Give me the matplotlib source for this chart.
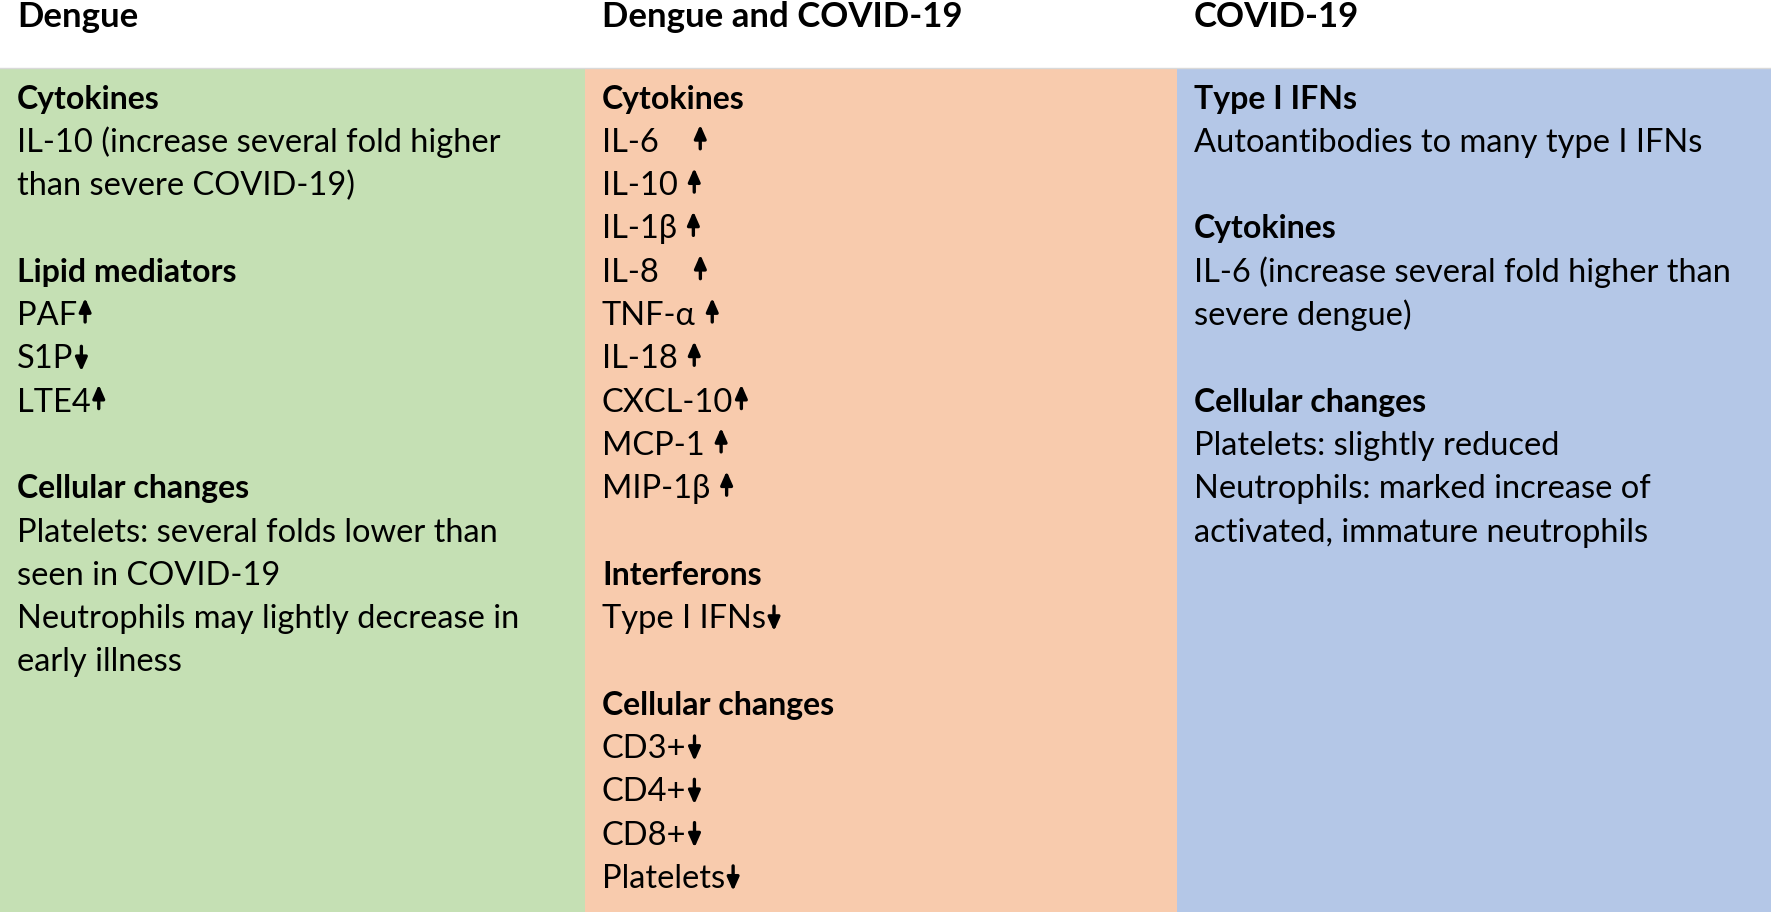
import matplotlib.pyplot as plt
from matplotlib.patches import Rectangle

# column titles and background colours
titles = ["Dengue", "Dengue and COVID-19", "COVID-19"]
colours = ["#C5E0B4", "#F8CBAD", "#B4C7E7"]

# each column: list of (heading, lines); a trailing arrow marks up/down
dengue = [
    ("Cytokines", ["IL-10 (increase several fold higher",
                   "than severe COVID-19)"]),
    ("Lipid mediators", ["PAF↑", "S1P↓", "LTE4↑"]),
    ("Cellular changes", ["Platelets: several folds lower than",
                          "seen in COVID-19",
                          "Neutrophils may lightly decrease in",
                          "early illness"]),
]
both = [
    ("Cytokines", ["IL-6    ↑", "IL-10 ↑", "IL-1β ↑", "IL-8    ↑",
                   "TNF-α ↑", "IL-18 ↑", "CXCL-10↑", "MCP-1 ↑",
                   "MIP-1β ↑"]),
    ("Interferons", ["Type I IFNs↓"]),
    ("Cellular changes", ["CD3+↓", "CD4+↓", "CD8+↓", "Platelets↓"]),
]
covid = [
    ("Type I IFNs", ["Autoantibodies to many type I IFNs"]),
    ("Cytokines", ["IL-6 (increase several fold higher than",
                   "severe dengue)"]),
    ("Cellular changes", ["Platelets: slightly reduced",
                          "Neutrophils: marked increase of",
                          "activated, immature neutrophils"]),
]
columns = [dengue, both, covid]

W, H = 1771, 914
fig = plt.figure(figsize=(W / 100, H / 100), dpi=100)
ax = fig.add_axes([0, 0, 1, 1])
ax.set_xlim(0, W)
ax.set_ylim(H, 0)
ax.axis("off")
renderer = fig.canvas.get_renderer()

fam = ["Lato", "DejaVu Sans"]
body_fs, head_fs, title_fs = 23.5, 23, 25
edges = [0, 585, 1177, W]
top, bottom = 68, 912
y0, step = 108.5, 43.3


def text_width(s, size):
    t = ax.text(0, 0, s, family=fam, fontsize=size)
    w = t.get_window_extent(renderer).width
    t.remove()
    return w


space_w = text_width("x x", body_fs) - text_width("xx", body_fs)


def draw_arrow(xa, yb, up):
    if up:
        tail, tip = yb - 3, yb - 27
    else:
        tail, tip = yb - 22, yb + 3
    ax.annotate("", xy=(xa, tip), xytext=(xa, tail),
                arrowprops=dict(arrowstyle="-|>,head_length=0.5,head_width=0.22",
                                lw=2.4, color="black", shrinkA=0, shrinkB=0,
                                mutation_scale=16))


for i, (title, col, colour) in enumerate(zip(titles, columns, colours)):
    x0 = edges[i]
    ax.add_patch(Rectangle((x0, top), edges[i + 1] - x0, bottom - top,
                           facecolor=colour, edgecolor="none"))
    ax.text(x0 + 17, 27, title, family=fam, fontweight="bold", fontsize=title_fs,
            va="baseline", ha="left", color="black")
    k = 0
    xt = x0 + 17
    for heading, lines in col:
        ax.text(xt, y0 + k * step, heading, family=fam, fontweight="bold",
                fontsize=head_fs, va="baseline", ha="left", color="black")
        k += 1
        for line in lines:
            yb = y0 + k * step
            arrow = line[-1] if line[-1] in "↑↓" else None
            core = line[:-1] if arrow else line
            text = core.rstrip()
            ax.text(xt, yb, text, family=fam, fontsize=body_fs,
                    va="baseline", ha="left", color="black")
            if arrow:
                n = len(core) - len(text)
                xa = xt + text_width(text, body_fs) + n * space_w + 8
                draw_arrow(xa, yb, arrow == "↑")
            k += 1
        k += 1

ax.plot([0, W], [top, top], color="#d9d9d9", lw=1)

fig.savefig("out.png", dpi=100)
